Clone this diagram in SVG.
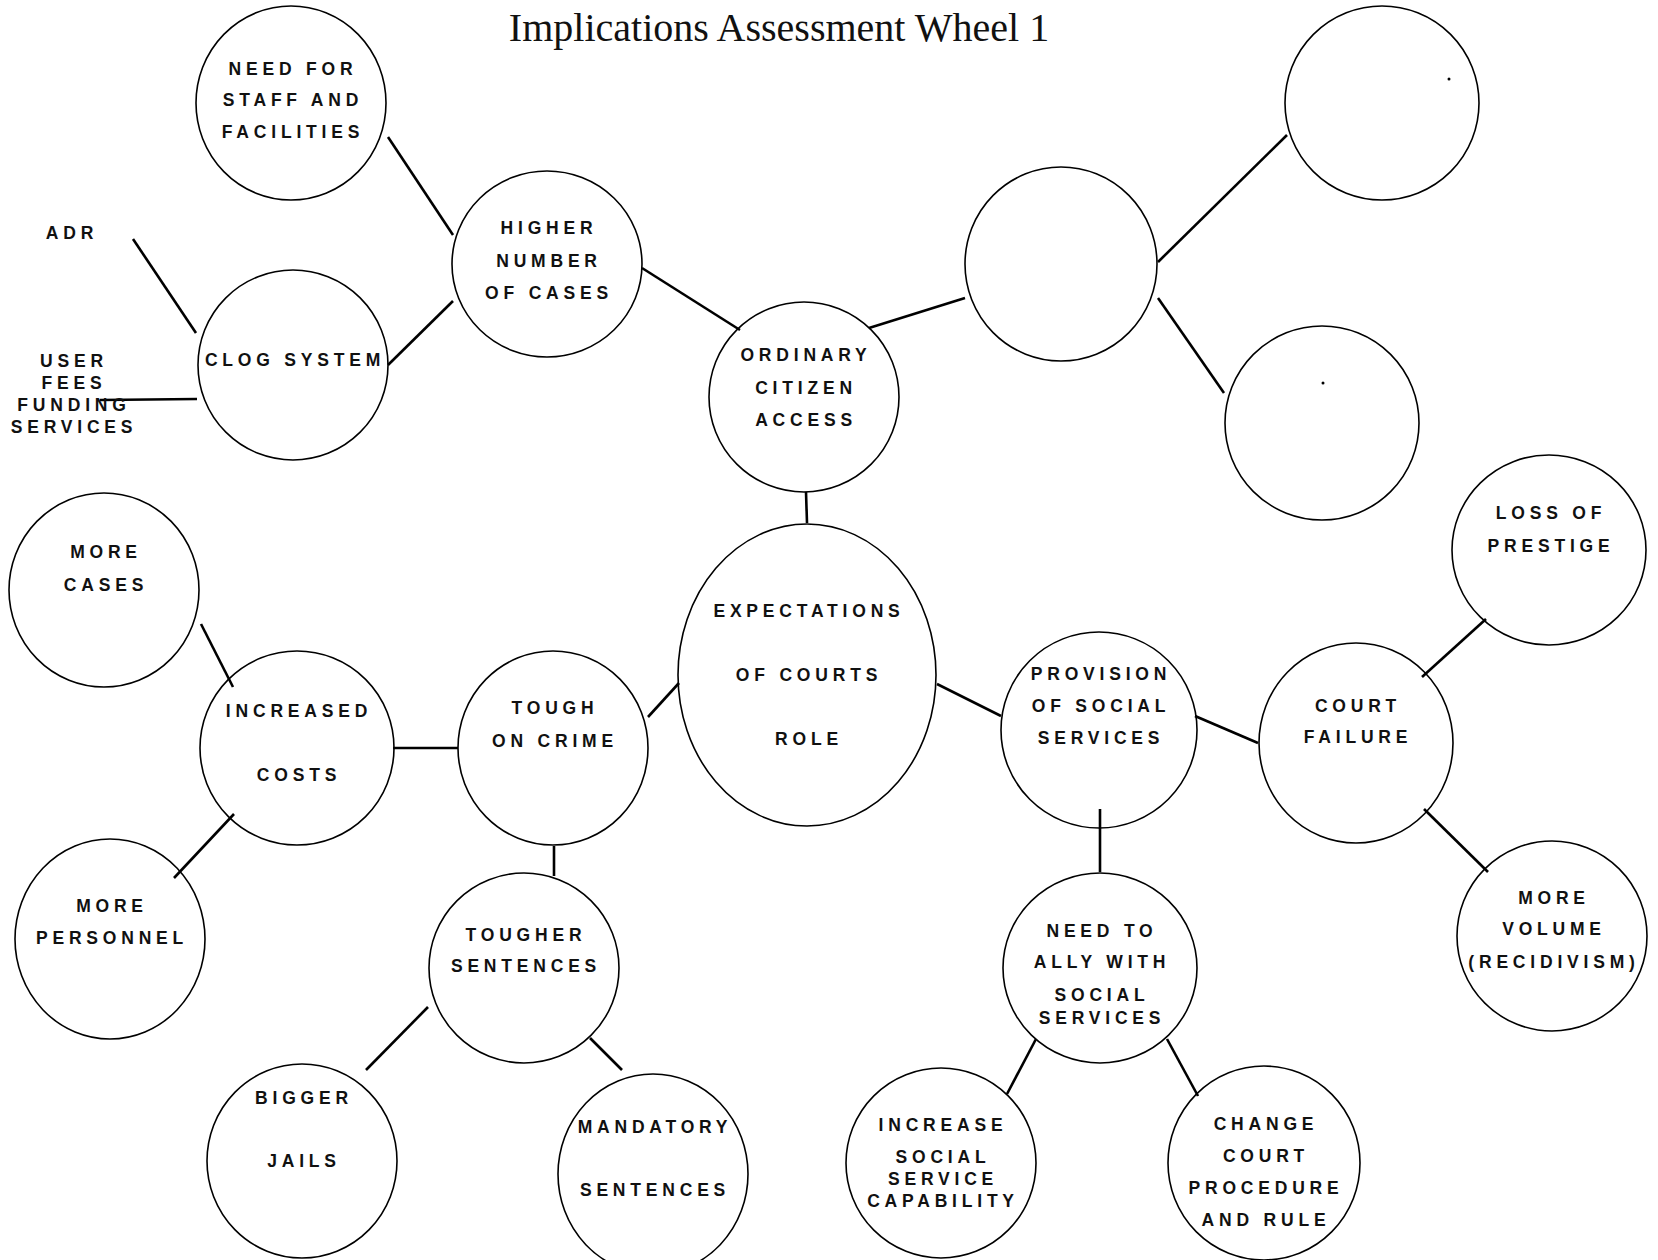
<svg xmlns="http://www.w3.org/2000/svg" width="1658" height="1260" viewBox="0 0 1658 1260">
<style>
.n ellipse{fill:none;stroke:#000;stroke-width:1.6}
.n text,.lab{font-family:"Liberation Sans",Arial,sans-serif;font-weight:bold;font-size:17.5px;letter-spacing:4.8px;text-anchor:middle;dominant-baseline:central;fill:#111}
.c line{stroke:#000;stroke-width:2.6;stroke-linecap:butt}
.title{font-family:"Liberation Serif","Times New Roman",serif;font-size:40px;text-anchor:middle;fill:#111}
</style>
<rect width="1658" height="1260" fill="#fff"/>
<text class="title" x="779" y="41">Implications Assessment Wheel 1</text>
<g class="c" id="connectors">
<line x1="133" y1="239" x2="196" y2="333"/>
<line x1="100" y1="400" x2="197" y2="399"/>
<line x1="388" y1="137" x2="453" y2="235"/>
<line x1="388" y1="365" x2="453" y2="301"/>
<line x1="642" y1="268" x2="740" y2="330"/>
<line x1="869" y1="328" x2="965" y2="298"/>
<line x1="1158" y1="262" x2="1287" y2="135"/>
<line x1="1158" y1="298" x2="1224" y2="393"/>
<line x1="806" y1="492" x2="807" y2="523"/>
<line x1="648" y1="717" x2="679" y2="683"/>
<line x1="393" y1="748" x2="458" y2="748"/>
<line x1="201" y1="624" x2="233" y2="687"/>
<line x1="234" y1="814" x2="174" y2="878"/>
<line x1="554" y1="846" x2="554" y2="876"/>
<line x1="428" y1="1007" x2="366" y2="1070"/>
<line x1="590" y1="1038" x2="622" y2="1070"/>
<line x1="937" y1="684" x2="1001" y2="716"/>
<line x1="1195" y1="716" x2="1258" y2="743"/>
<line x1="1422" y1="677" x2="1486" y2="619"/>
<line x1="1424" y1="809" x2="1488" y2="872"/>
<line x1="1100" y1="809" x2="1100" y2="872"/>
<line x1="1036" y1="1039" x2="1007" y2="1094"/>
<line x1="1167" y1="1039" x2="1198" y2="1096"/>
</g>
<g class="n" id="need_staff"><ellipse cx="291" cy="103" rx="95" ry="97"/><text x="293" y="69">NEED FOR</text><text x="293" y="100">STAFF AND</text><text x="293" y="132">FACILITIES</text></g>
<g class="n" id="higher"><ellipse cx="547" cy="264" rx="95" ry="93"/><text x="549" y="228">HIGHER</text><text x="549" y="261">NUMBER</text><text x="549" y="293">OF CASES</text></g>
<g class="n" id="clog"><ellipse cx="293" cy="365" rx="95" ry="95"/><text x="295" y="360">CLOG SYSTEM</text></g>
<g class="n" id="adr"><text x="72" y="233">ADR</text></g>
<g class="n" id="user_fees"><text x="74" y="361">USER</text><text x="74" y="383">FEES</text><text x="74" y="405">FUNDING</text><text x="74" y="427">SERVICES</text></g>
<g class="n" id="ordinary"><ellipse cx="804" cy="397" rx="95" ry="95"/><text x="806" y="355">ORDINARY</text><text x="806" y="388">CITIZEN</text><text x="806" y="420">ACCESS</text></g>
<g class="n" id="blank_a"><ellipse cx="1061" cy="264" rx="96" ry="97"/></g>
<g class="n" id="blank_b"><ellipse cx="1382" cy="103" rx="97" ry="97"/><circle cx="1449" cy="79" r="1.5" fill="#000"/></g>
<g class="n" id="blank_c"><ellipse cx="1322" cy="423" rx="97" ry="97"/><circle cx="1323" cy="383" r="1.5" fill="#000"/></g>
<g class="n" id="expectations"><ellipse cx="807" cy="675" rx="129" ry="151"/><text x="809" y="611">EXPECTATIONS</text><text x="809" y="675">OF COURTS</text><text x="809" y="739">ROLE</text></g>
<g class="n" id="more_cases"><ellipse cx="104" cy="590" rx="95" ry="97"/><text x="106" y="552">MORE</text><text x="106" y="585">CASES</text></g>
<g class="n" id="increased"><ellipse cx="297" cy="748" rx="97" ry="97"/><text x="299" y="711">INCREASED</text><text x="299" y="775">COSTS</text></g>
<g class="n" id="tough"><ellipse cx="553" cy="748" rx="95" ry="97"/><text x="555" y="708">TOUGH</text><text x="555" y="741">ON CRIME</text></g>
<g class="n" id="personnel"><ellipse cx="110" cy="939" rx="95" ry="100"/><text x="112" y="906">MORE</text><text x="112" y="938">PERSONNEL</text></g>
<g class="n" id="tougher"><ellipse cx="524" cy="968" rx="95" ry="95"/><text x="526" y="935">TOUGHER</text><text x="526" y="966">SENTENCES</text></g>
<g class="n" id="bigger"><ellipse cx="302" cy="1161" rx="95" ry="97"/><text x="304" y="1098">BIGGER</text><text x="304" y="1161">JAILS</text></g>
<g class="n" id="mandatory"><ellipse cx="653" cy="1174" rx="95" ry="100"/><text x="655" y="1127">MANDATORY</text><text x="655" y="1190">SENTENCES</text></g>
<g class="n" id="provision"><ellipse cx="1099" cy="730" rx="98" ry="98"/><text x="1101" y="674">PROVISION</text><text x="1101" y="706">OF SOCIAL</text><text x="1101" y="738">SERVICES</text></g>
<g class="n" id="court"><ellipse cx="1356" cy="743" rx="97" ry="100"/><text x="1358" y="706">COURT</text><text x="1358" y="737">FAILURE</text></g>
<g class="n" id="loss"><ellipse cx="1549" cy="550" rx="97" ry="95"/><text x="1551" y="513">LOSS OF</text><text x="1551" y="546">PRESTIGE</text></g>
<g class="n" id="more_volume"><ellipse cx="1552" cy="936" rx="95" ry="95"/><text x="1554" y="898">MORE</text><text x="1554" y="929">VOLUME</text><text x="1554" y="962">(RECIDIVISM)</text></g>
<g class="n" id="need_ally"><ellipse cx="1100" cy="968" rx="97" ry="95"/><text x="1102" y="931">NEED TO</text><text x="1102" y="962">ALLY WITH</text><text x="1102" y="995">SOCIAL</text><text x="1102" y="1018">SERVICES</text></g>
<g class="n" id="increase_ss"><ellipse cx="941" cy="1163" rx="95" ry="95"/><text x="943" y="1125">INCREASE</text><text x="943" y="1157">SOCIAL</text><text x="943" y="1179">SERVICE</text><text x="943" y="1201">CAPABILITY</text></g>
<g class="n" id="change"><ellipse cx="1264" cy="1163" rx="96" ry="97"/><text x="1266" y="1124">CHANGE</text><text x="1266" y="1156">COURT</text><text x="1266" y="1188">PROCEDURE</text><text x="1266" y="1220">AND RULE</text></g>
</svg>
